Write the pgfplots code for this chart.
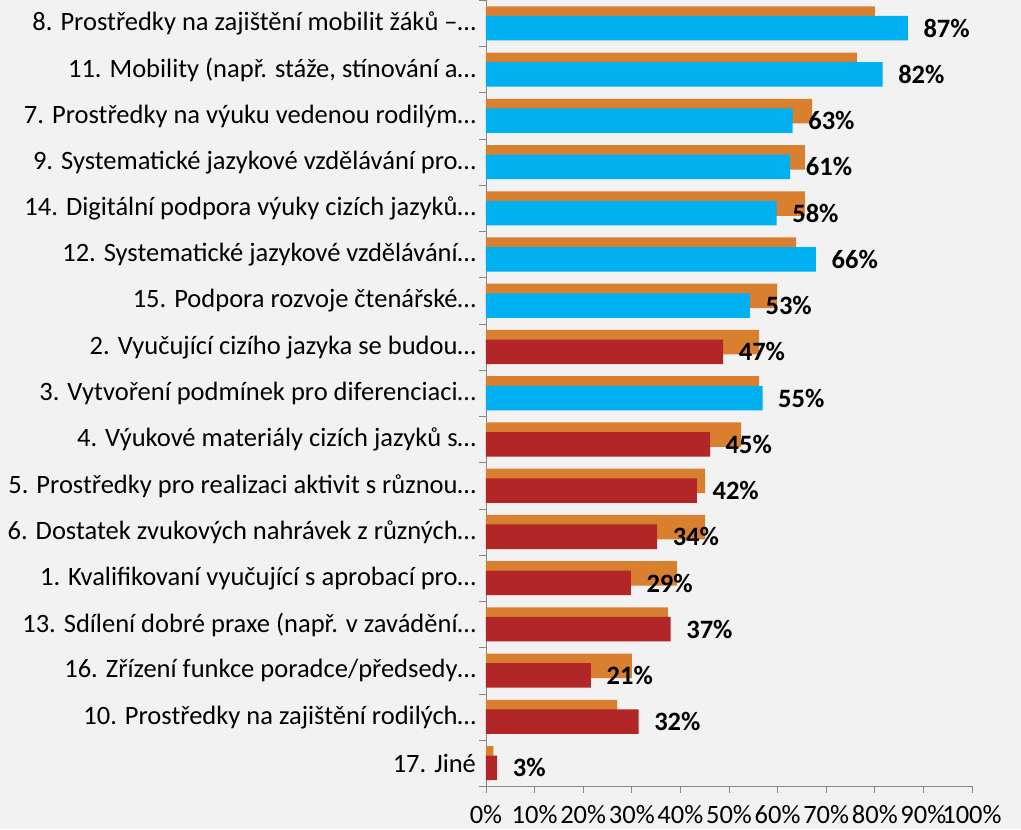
\documentclass[border=0pt]{standalone}
\usepackage{pgfplots}
\pgfplotsset{compat=1.18}
\usepackage{fontspec}
\setmainfont{Carlito}
\definecolor{bg}{HTML}{F2F2F2}
\definecolor{orng}{HTML}{D97F30}
\definecolor{blu}{HTML}{00B0F0}
\definecolor{rd}{HTML}{B22628}
\definecolor{axgray}{HTML}{868686}
\newcommand{\fs}{\fontsize{26.5}{30}\selectfont}
\begin{document}
\begin{tikzpicture}
\fill[bg] (-486pt,-43pt) rectangle (535pt,786pt);
\begin{axis}[
  at={(0,0)}, anchor=south west,
  scale only axis, width=486pt, height=786pt,
  xmin=0, xmax=100, ymin=0.5, ymax=17.5,
  xbar, bar width=24.5pt,
  clip=false,
  axis x line*=bottom, axis y line*=left,
  axis line style={axgray, line width=0.9pt},
  tick style={axgray, line width=0.9pt},
  tick align=outside,
  major tick length=6.5pt,
  xtick={0,10,...,100},
  xticklabels={0\%,10\%,20\%,30\%,40\%,50\%,60\%,70\%,80\%,90\%,100\%},
  ytick={0.5,1.5,...,17.5},
  y tick label as interval,
  yticklabels={
    {17. Jiné\hspace{17pt}},
    {10. Prostředky na zajištění rodilých…},
    {16. Zřízení funkce poradce/předsedy…},
    {13. Sdílení dobré praxe (např. v zavádění…},
    {1. Kvalifikovaní vyučující s aprobací pro…},
    {6. Dostatek zvukových nahrávek z různých…},
    {5. Prostředky pro realizaci aktivit s různou…},
    {4. Výukové materiály cizích jazyků s…},
    {3. Vytvoření podmínek pro diferenciaci…},
    {2. Vyučující cizího jazyka se budou…},
    {15. Podpora rozvoje čtenářské…},
    {12. Systematické jazykové vzdělávání…},
    {14. Digitální podpora výuky cizích jazyků…},
    {9. Systematické jazykové vzdělávání pro…},
    {7. Prostředky na výuku vedenou rodilým…},
    {11. Mobility (např. stáže, stínování a…},
    {8. Prostředky na zajištění mobilit žáků –…},
    {}},
  yticklabel style={font=\fs, text=black, anchor=east},
  xticklabel style={font=\fs, text=black, yshift=-9pt},
]
\addplot[fill=orng, draw=none, bar shift=5pt] coordinates {
  (80.0,17) (76.3,16) (67.1,15) (65.6,14) (65.6,13) (63.8,12) (59.9,11)
  (56.2,10) (56.2,9) (52.5,8) (45.1,7) (45.1,6) (39.3,5) (37.4,4)
  (30.0,3) (27.0,2) (1.5,1)
};
\addplot[fill=blu, draw=none, bar shift=-4.6pt,
  nodes near coords, point meta=explicit symbolic,
  every node near coord/.append style={anchor=west, inner sep=0pt, xshift=15.5pt, font=\fs\bfseries, text=black}]
  coordinates {
  (86.8,17) [87\%] (81.6,16) [82\%] (63.1,15) [63\%] (62.6,14) [61\%]
  (59.8,13) [58\%] (67.9,12) [66\%] (54.3,11) [53\%] (56.9,9) [55\%]
};
\addplot[fill=rd, draw=none, bar shift=-4.6pt,
  nodes near coords, point meta=explicit symbolic,
  every node near coord/.append style={anchor=west, inner sep=0pt, xshift=15.5pt, font=\fs\bfseries, text=black}]
  coordinates {
  (48.8,10) [47\%] (46.1,8) [45\%] (43.4,7) [42\%] (35.2,6) [34\%]
  (29.8,5) [29\%] (38.0,4) [37\%] (21.6,3) [21\%] (31.4,2) [32\%]
  (2.3,1) [3\%]
};
\end{axis}
\end{tikzpicture}
\end{document}
